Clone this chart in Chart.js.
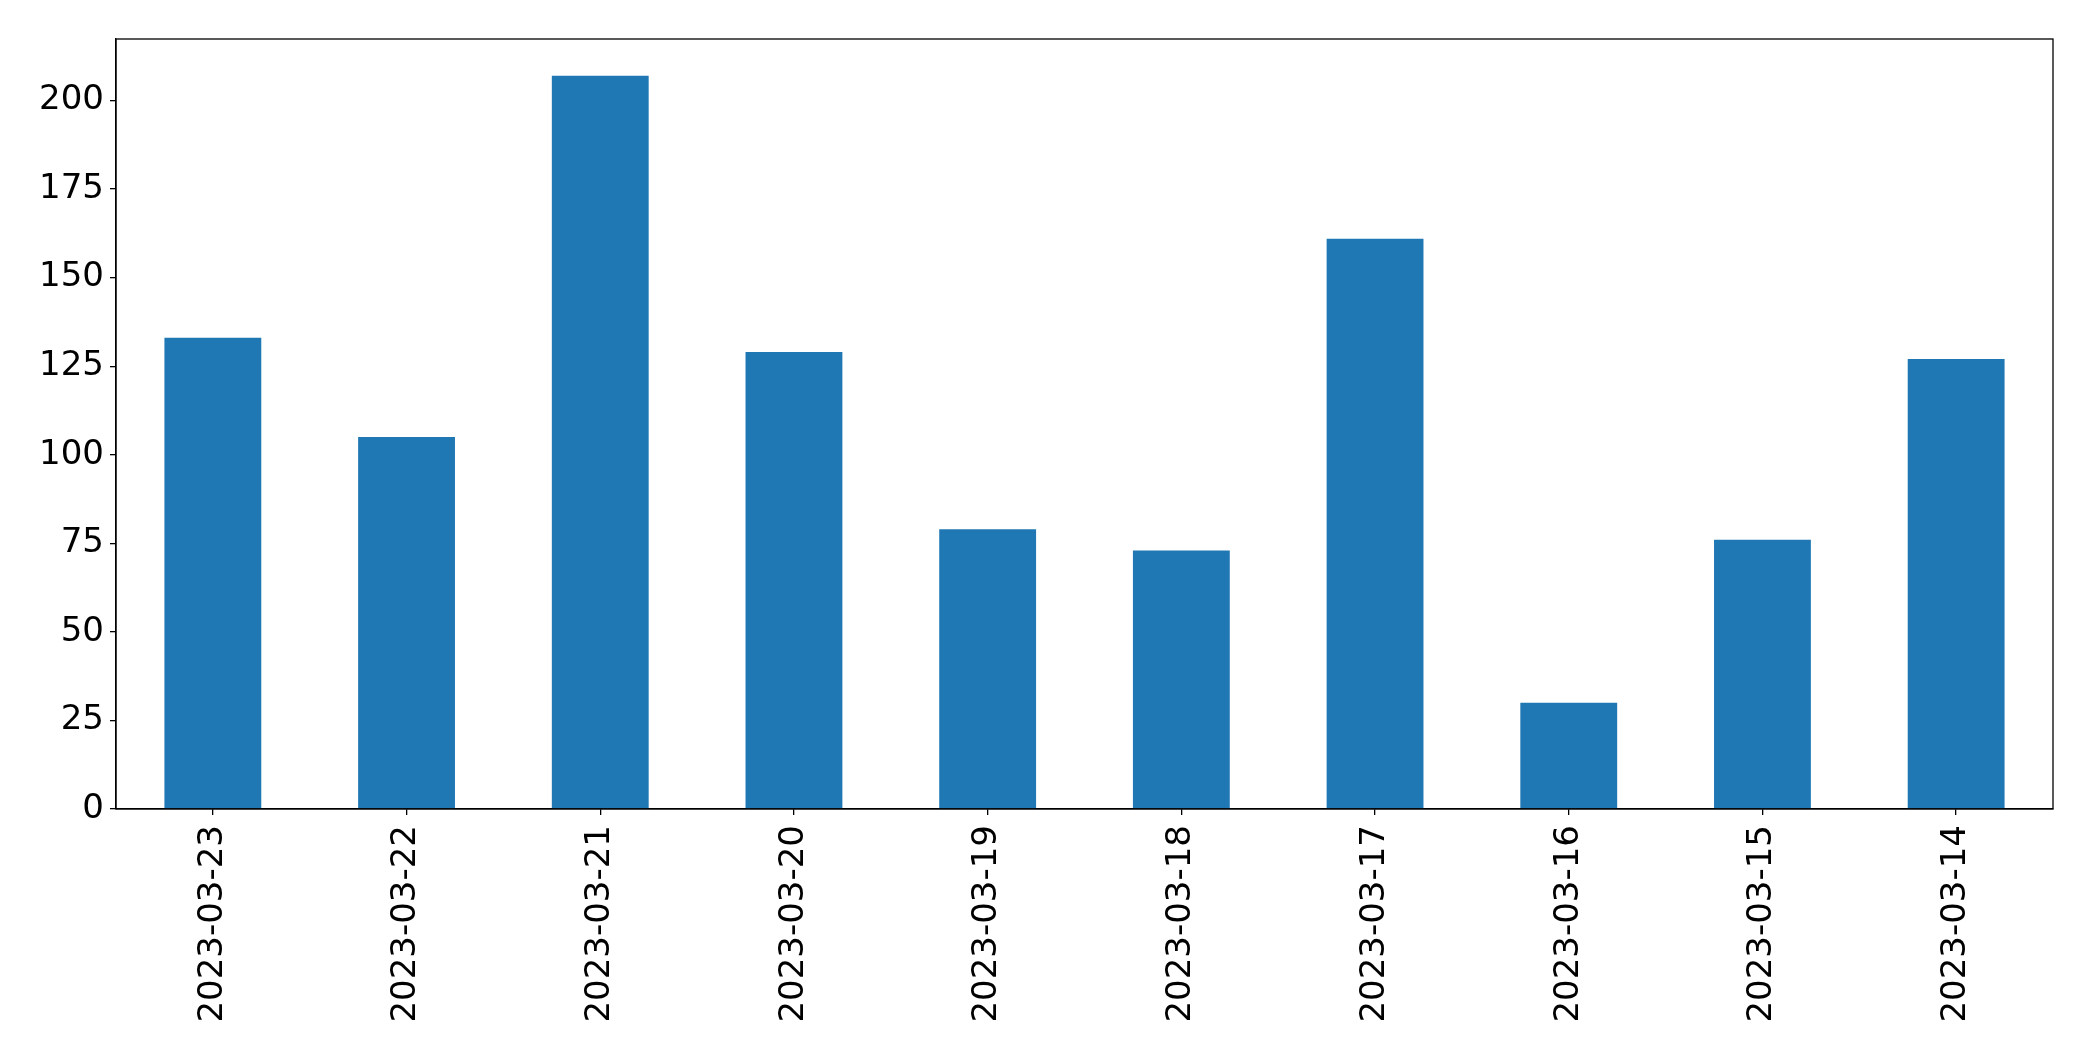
<!DOCTYPE html>
<html>
<head>
<meta charset="utf-8">
<script src="https://cdn.jsdelivr.net/npm/chart.js@4/dist/chart.umd.min.js"></script>
<style>
  html, body { margin: 0; padding: 0; background: #fff; }
  #wrap { width: 2093px; height: 1061px; }
</style>
</head>
<body>
<div id="wrap"><canvas id="myChart" width="2093" height="1061"></canvas></div>
<script>
// data
var dates = ["2023-03-23", "2023-03-22", "2023-03-21", "2023-03-20", "2023-03-19",
             "2023-03-18", "2023-03-17", "2023-03-16", "2023-03-15", "2023-03-14"];
var counts = [133, 105, 207, 129, 79, 73, 161, 30, 76, 127];
var yTicks = [0, 25, 50, 75, 100, 125, 150, 175, 200];

//box round the plot area, like matplotlib
var frame = {
  id: "frame",
  afterDraw: function (chart) {
    var a = chart.chartArea;
    var ctx = chart.ctx;
    ctx.save();
    ctx.strokeStyle = "#000";
    ctx.lineWidth = 1.3;
    ctx.strokeRect(a.left, a.top, a.right - a.left, a.bottom - a.top);
    ctx.restore();
  }
};

Chart.defaults.font.family = "'DejaVu Sans', sans-serif";
Chart.defaults.color = "#000";

new Chart("myChart", {
  type: "bar",
  data: {
    labels: dates,
    datasets: [{
      data: counts,
      backgroundColor: "#1f77b4",
      borderWidth: 0,
      categoryPercentage: 1.0,
      barPercentage: 0.5
    }]
  },
  options: {
    responsive: false,
    animation: false,
    layout: { padding: { top: 39, right: 40, left: 0, bottom: 0 } },
    plugins: {
      legend: { display: false },
      tooltip: { enabled: false }
    },
    scales: {
      x: {
        offset: true,
        grid: { display: true, offset: false, drawOnChartArea: false, drawTicks: true, tickLength: 6, color: "#000", lineWidth: 1.3 },
        border: { display: true, color: "#000", width: 1.3 },
        ticks: { font: { size: 34 }, color: "#000", maxRotation: 90, minRotation: 90, padding: 10, autoSkip: false },
        afterFit: function (scale) { scale.height = 252; }
      },
      y: {
        min: 0,
        max: 217.35,
        grid: { display: true, drawOnChartArea: false, drawTicks: true, tickLength: 6, color: "#000", lineWidth: 1.3 },
        border: { display: true, color: "#000", width: 1.3 },
        ticks: { font: { size: 34 }, color: "#000", padding: 6, includeBounds: false },
        afterBuildTicks: function (scale) {
          scale.ticks = yTicks.map(function (v) { return { value: v }; });
        },
        afterFit: function (scale) { scale.width = 116; }
      }
    }
  },
  plugins: [frame]
});
</script>
</body>
</html>
